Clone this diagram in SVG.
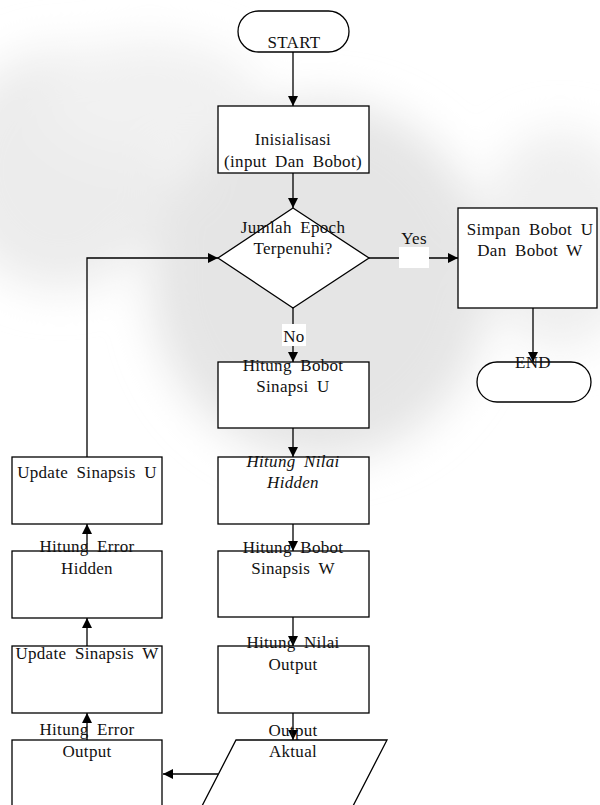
<svg xmlns="http://www.w3.org/2000/svg" width="600" height="805" viewBox="0 0 600 805">
<defs>
<marker id="ah" viewBox="0 0 10 10" refX="10" refY="5" markerWidth="10" markerHeight="10" markerUnits="userSpaceOnUse" orient="auto">
<path d="M0,0 L10,5 L0,10 z" fill="#000"/>
</marker>
<filter id="blur" x="-50%" y="-50%" width="200%" height="200%"><feGaussianBlur stdDeviation="22"/></filter>
<style>
.s{fill:#fff;stroke:#000;stroke-width:1.3}
.c{fill:none;stroke:#000;stroke-width:1.3}
text{font-family:"Liberation Serif","Times New Roman",serif;font-size:17px;fill:#111;text-anchor:middle;letter-spacing:0.3px;word-spacing:4px}
.i{font-style:italic}
</style>
</defs>
<rect width="600" height="805" fill="#fff"/>
<g id="watermark" filter="url(#blur)">
<ellipse cx="60" cy="170" rx="110" ry="120" fill="#ececec"/>
<ellipse cx="320" cy="280" rx="170" ry="180" fill="#e5e5e5"/>
<ellipse cx="560" cy="240" rx="80" ry="110" fill="#efefef"/>
<ellipse cx="150" cy="100" rx="110" ry="60" fill="#f1f1f1"/>
</g>
<g id="connectors">
<line class="c" x1="293" y1="52" x2="293" y2="106" marker-end="url(#ah)"/>
<line class="c" x1="293" y1="173" x2="293" y2="208" marker-end="url(#ah)"/>
<line class="c" x1="369" y1="258" x2="458" y2="258" marker-end="url(#ah)"/>
<rect x="399" y="247" width="30" height="21" fill="#fff"/>
<text x="414" y="244">Yes</text>
<line class="c" x1="533" y1="308" x2="533" y2="362" marker-end="url(#ah)"/>
<line class="c" x1="293" y1="308" x2="293" y2="362" marker-end="url(#ah)"/>
<rect x="282" y="324" width="24" height="22" fill="#fff"/>
<text x="294" y="342">No</text>
<line class="c" x1="293" y1="428" x2="293" y2="457" marker-end="url(#ah)"/>
<line class="c" x1="293" y1="524" x2="293" y2="551" marker-end="url(#ah)"/>
<line class="c" x1="293" y1="617" x2="293" y2="646" marker-end="url(#ah)"/>
<line class="c" x1="293" y1="713" x2="293" y2="740" marker-end="url(#ah)"/>
<line class="c" x1="218" y1="774" x2="163" y2="774" marker-end="url(#ah)"/>
<line class="c" x1="87" y1="740" x2="87" y2="713" marker-end="url(#ah)"/>
<line class="c" x1="87" y1="646" x2="87" y2="618" marker-end="url(#ah)"/>
<line class="c" x1="87" y1="551" x2="87" y2="524" marker-end="url(#ah)"/>
<polyline class="c" points="87,457 87,258 218,258" marker-end="url(#ah)"/>
</g>
<g id="start">
<rect class="s" x="238" y="11" width="111" height="41" rx="20.5"/>
<text x="294" y="48">START</text>
</g>
<g id="init">
<rect class="s" x="218" y="106" width="151" height="67"/>
<text x="293" y="145">Inisialisasi</text>
<text x="293" y="167">(input Dan Bobot)</text>
</g>
<g id="decision">
<polygon class="s" points="293,208 369,258 293,308 218,258"/>
<text x="293" y="233">Jumlah Epoch</text>
<text x="293" y="254">Terpenuhi?</text>
</g>
<g id="simpan">
<rect class="s" x="458" y="208" width="139" height="100"/>
<text x="530" y="235">Simpan Bobot U</text>
<text x="530" y="256">Dan Bobot W</text>
</g>
<g id="end">
<rect class="s" x="477" y="362" width="114" height="40" rx="20"/>
<text x="533" y="368">END</text>
</g>
<g id="hitung-bobot-u">
<rect class="s" x="218" y="362" width="151" height="66"/>
<text x="293" y="371">Hitung Bobot</text>
<text x="293" y="392">Sinapsi U</text>
</g>
<g id="hitung-nilai-hidden">
<rect class="s" x="218" y="457" width="151" height="67"/>
<text class="i" x="293" y="467">Hitung Nilai</text>
<text class="i" x="293" y="488">Hidden</text>
</g>
<g id="hitung-bobot-w">
<rect class="s" x="218" y="551" width="151" height="66"/>
<text x="293" y="553">Hitung Bobot</text>
<text x="293" y="574">Sinapsis W</text>
</g>
<g id="hitung-nilai-output">
<rect class="s" x="218" y="646" width="151" height="67"/>
<text x="293" y="648">Hitung Nilai</text>
<text x="293" y="670">Output</text>
</g>
<g id="output-aktual">
<polygon class="s" points="236,740 387,740 353,806 202,806"/>
<text x="293" y="736">Output</text>
<text x="293" y="757">Aktual</text>
</g>
<g id="update-u">
<rect class="s" x="12" y="457" width="150" height="67"/>
<text x="87" y="478">Update Sinapsis U</text>
</g>
<g id="error-hidden">
<rect class="s" x="12" y="551" width="150" height="67"/>
<text x="87" y="552">Hitung Error</text>
<text x="87" y="574">Hidden</text>
</g>
<g id="update-w">
<rect class="s" x="12" y="646" width="150" height="67"/>
<text x="87" y="659">Update Sinapsis W</text>
</g>
<g id="error-output">
<rect class="s" x="12" y="740" width="150" height="66"/>
<text x="87" y="735">Hitung Error</text>
<text x="87" y="757">Output</text>
</g>
</svg>
